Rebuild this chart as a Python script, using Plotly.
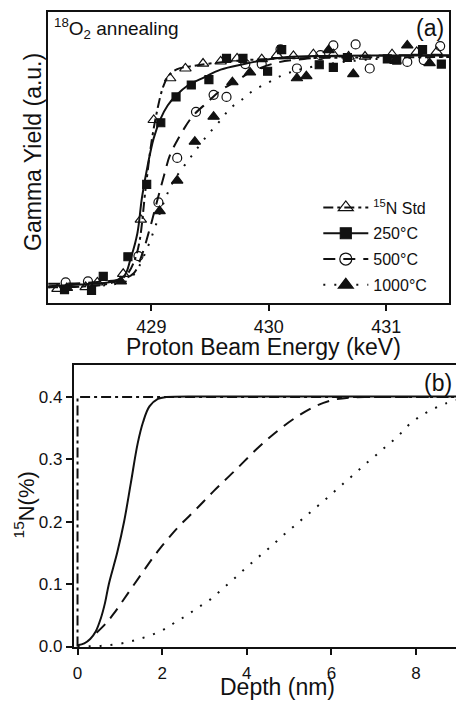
import plotly.graph_objects as go

# ---------------- Panel (a): resonance excitation curves ----------------
std_E = [428.20, 428.44, 428.54, 428.76, 428.91, 429.02, 429.16, 429.29, 429.44, 429.59,
         429.73, 429.94, 430.07, 430.21, 430.38, 430.55, 430.68, 430.82, 431.05, 431.26, 431.43]
std_Y = [-0.007, 0.001, 0.021, 0.058, 0.29, 0.718, 0.897, 0.939, 0.96, 0.969,
         0.982, 0.979, 0.996, 0.993, 1.0, 1.0, 0.99, 0.99, 1.0, 1.01, 1.01]

t250_E = [428.26, 428.49, 428.59, 428.80, 428.96, 429.08, 429.21, 429.34, 429.49, 429.64,
          429.78, 429.99, 430.11, 430.43, 430.55, 430.67, 431.01, 431.09, 431.31, 431.47]
t250_Y = [-0.01, -0.013, 0.047, 0.131, 0.442, 0.706, 0.817, 0.868, 0.891, 0.982,
          0.982, 0.927, 1.02, 0.955, 0.944, 0.986, 0.98, 0.975, 1.02, 0.958]

t500_E = [428.27, 428.46, 428.89, 429.06, 429.22, 429.38, 429.53, 429.64, 429.80, 429.94,
          430.10, 430.24, 430.44, 430.55, 430.74, 430.86, 431.18, 431.32, 431.46]
t500_Y = [0.021, 0.025, 0.134, 0.364, 0.555, 0.753, 0.826, 0.817, 0.958, 0.958,
          1.021, 0.939, 0.996, 1.038, 1.042, 0.939, 0.967, 0.975, 1.035]

t1000_E = [428.28, 428.74, 429.07, 429.22, 429.37, 429.53, 429.69, 429.84, 430.24, 430.32,
           430.51, 430.72, 431.08, 431.18, 431.37]
t1000_Y = [-0.003, 0.025, 0.327, 0.458, 0.625, 0.732, 0.88, 0.922, 0.897, 0.906,
           1.018, 0.915, 0.972, 1.038, 0.962]

# fitted curves
fit_std_E = [428.12, 428.40, 428.60, 428.72, 428.80, 428.86, 428.90, 428.95, 429.00, 429.05,
             429.10, 429.15, 429.22, 429.36, 429.53, 429.73, 430.00, 430.50, 431.00, 431.54]
fit_std_Y = [0.000, 0.003, 0.012, 0.030, 0.060, 0.12, 0.20, 0.42, 0.62, 0.76,
             0.86, 0.91, 0.936, 0.95, 0.962, 0.972, 0.98, 0.985, 0.987, 0.988]

fit_250_E = [428.12, 428.40, 428.53, 428.67, 428.77, 428.82, 428.88, 428.92, 428.97, 429.02,
             429.08, 429.14, 429.21, 429.31, 429.45, 429.59, 429.79, 429.96, 430.16, 430.44,
             431.00, 431.54]
fit_250_Y = [0.005, 0.012, 0.016, 0.025, 0.050, 0.117, 0.23, 0.386, 0.527, 0.64,
             0.725, 0.781, 0.823, 0.866, 0.901, 0.934, 0.958, 0.975, 0.988, 0.993,
             0.995, 0.995]

fit_500_E = [428.12, 428.40, 428.60, 428.75, 428.85, 428.92, 428.99, 429.05, 429.11, 429.16,
             429.28, 429.36, 429.48, 429.59, 429.73, 429.84, 430.07, 430.30, 430.60, 431.00,
             431.54]
fit_500_Y = [0.015, 0.018, 0.025, 0.035, 0.060, 0.14, 0.258, 0.372, 0.484, 0.569,
             0.682, 0.739, 0.795, 0.845, 0.887, 0.922, 0.964, 0.98, 0.99, 0.995,
             0.995]

fit_1000_E = [428.12, 428.50, 428.70, 428.80, 428.87, 428.97, 429.04, 429.11, 429.19, 429.33,
              429.48, 429.59, 429.67, 429.77, 429.87, 429.99, 430.10, 430.20, 430.30, 430.60,
              431.00, 431.54]
fit_1000_Y = [0.0, 0.005, 0.015, 0.03, 0.068, 0.174, 0.27, 0.37, 0.456, 0.555,
              0.654, 0.717, 0.767, 0.805, 0.845, 0.877, 0.906, 0.925, 0.939, 0.965,
              0.982, 0.99]

# ---------------- Panel (b): depth profiles ----------------
prof_std_x = [0.0, 0.0, 8.95]
prof_std_y = [0.0, 0.4, 0.4]

prof_250_x = [0.00, 0.16, 0.30, 0.43, 0.55, 0.65, 0.74, 0.94, 1.10, 1.26,
              1.42, 1.55, 1.70, 1.90, 2.10, 3.00, 5.00, 8.95]
prof_250_y = [0.002, 0.005, 0.012, 0.024, 0.045, 0.070, 0.100, 0.151, 0.200, 0.262,
              0.325, 0.360, 0.385, 0.397, 0.400, 0.401, 0.401, 0.401]

prof_500_x = [0.45, 0.67, 0.86, 1.22, 1.57, 1.89, 2.36, 2.80, 3.23, 3.69,
              4.21, 4.66, 5.13, 5.61, 6.08, 6.50, 7.00, 8.95]
prof_500_y = [0.022, 0.037, 0.053, 0.088, 0.122, 0.152, 0.190, 0.220, 0.250, 0.280,
              0.315, 0.342, 0.366, 0.385, 0.396, 0.3995, 0.400, 0.400]

prof_1000_x = [0.00, 0.55, 0.86, 1.18, 1.45, 1.73, 2.03, 2.29, 2.58, 2.86,
               3.15, 3.42, 3.69, 3.98, 4.27, 4.55, 4.84, 5.12, 5.41, 5.69,
               5.98, 6.26, 6.55, 6.81, 7.06, 7.31, 7.57, 7.84, 8.14, 8.41,
               8.71, 8.95]
prof_1000_y = [0.000, 0.001, 0.003, 0.007, 0.012, 0.018, 0.027, 0.038, 0.050, 0.063,
               0.076, 0.092, 0.108, 0.126, 0.143, 0.159, 0.177, 0.193, 0.210, 0.226,
               0.243, 0.260, 0.277, 0.293, 0.307, 0.322, 0.337, 0.356, 0.371, 0.381,
               0.390, 0.395]

legend_names = ["<sup>15</sup>N Std", "250°C", "500°C", "1000°C"]
y_ticks_b = [0.0, 0.1, 0.2, 0.3, 0.4]
x_ticks_a = [429, 430, 431]
x_ticks_b = [0, 2, 4, 6, 8]

FONT = "Liberation Sans, Arial, sans-serif"
BLACK = "#111111"
DASHDOT = "10px,4px,3px,4px"
DASH = "12px,8px"
DOT = "2px,9px"

styles = [
    dict(dash=DASHDOT, symbol="triangle-up-open", size=10),
    dict(dash="solid", symbol="square", size=8),
    dict(dash=DASH, symbol="circle-open", size=9),
    dict(dash=DOT, symbol="triangle-up", size=10),
]

fig = go.Figure()

# panel (a) fits
for (ex, ey), st in zip([(fit_std_E, fit_std_Y), (fit_250_E, fit_250_Y),
                         (fit_500_E, fit_500_Y), (fit_1000_E, fit_1000_Y)], styles):
    fig.add_trace(go.Scatter(x=ex, y=ey, mode="lines", line_shape="spline",
                             line=dict(color=BLACK, width=2, dash=st["dash"]),
                             showlegend=False, xaxis="x", yaxis="y"))

# panel (a) data markers
for (ex, ey), st in zip([(std_E, std_Y), (t250_E, t250_Y),
                         (t500_E, t500_Y), (t1000_E, t1000_Y)], styles):
    fig.add_trace(go.Scatter(x=ex, y=ey, mode="markers",
                             marker=dict(symbol=st["symbol"], size=st["size"], color=BLACK,
                                         line=dict(color=BLACK, width=1.2)),
                             showlegend=False, xaxis="x", yaxis="y"))

# legend entries (no data, legend only)
for i, (name, st) in enumerate(zip(legend_names, styles)):
    fig.add_trace(go.Scatter(x=[None], y=[None], mode="lines+markers", name=name,
                             legendgroup=f"g{i}",
                             line=dict(color=BLACK, width=2, dash=st["dash"]),
                             marker=dict(symbol=st["symbol"], size=st["size"] + 3, color=BLACK,
                                         line=dict(color=BLACK, width=1.2)),
                             xaxis="x", yaxis="y"))

# panel (b) profiles
for (px_, py_), st in zip([(prof_std_x, prof_std_y), (prof_250_x, prof_250_y),
                           (prof_500_x, prof_500_y), (prof_1000_x, prof_1000_y)], styles):
    fig.add_trace(go.Scatter(x=px_, y=py_, mode="lines",
                             line_shape="linear" if px_ is prof_std_x else "spline",
                             line=dict(color=BLACK, width=2, dash=st["dash"]),
                             showlegend=False, xaxis="x2", yaxis="y2"))

W, H = 456, 705
def px(v):
    return v / W
def py(v):
    return 1 - v / H

axis_common = dict(showgrid=False, zeroline=False, showline=True, linecolor=BLACK,
                   linewidth=1.5, ticks="outside", tickcolor=BLACK, tickwidth=1.5,
                   ticklen=6)

fig.update_layout(
    width=W, height=H,
    margin=dict(l=0, r=0, t=0, b=0),
    paper_bgcolor="white", plot_bgcolor="white",
    font=dict(family=FONT, color=BLACK),
    xaxis=dict(domain=[px(47.3), px(449.3)], range=[428.121, 431.538],
               tickvals=x_ticks_a, mirror=True, anchor="y", ticklabelstandoff=1,
               tickfont=dict(size=18), **axis_common),
    yaxis=dict(domain=[py(306.7), py(12)], range=[-0.0665, 1.182],
               mirror=True, anchor="x", showgrid=False, zeroline=False, showline=True,
               linecolor=BLACK, linewidth=1.5, ticks="", showticklabels=False),
    xaxis2=dict(domain=[px(72.7), 1.0], range=[-0.094, 8.946],
                tickvals=x_ticks_b, mirror=True, anchor="y2", ticklabelstandoff=4,
                tickfont=dict(size=17), **axis_common),
    yaxis2=dict(domain=[py(655.5), py(370)], range=[-0.001, 0.451],
                tickvals=y_ticks_b, tickformat=".1f", anchor="x2",
                tickfont=dict(size=17), **axis_common),
    legend=dict(x=px(318), y=py(193), xanchor="left", yanchor="top",
                bgcolor="rgba(0,0,0,0)", font=dict(size=16, family=FONT),
                itemwidth=45, tracegroupgap=2),
    annotations=[
        dict(text="<sup>18</sup>O<sub>2</sub> annealing", x=px(51), y=py(29),
             xref="paper", yref="paper", xanchor="left", yanchor="middle",
             showarrow=False, font=dict(size=19)),
        dict(text="(a)", x=px(446), y=py(28), xref="paper", yref="paper",
             xanchor="right", yanchor="middle", showarrow=False, font=dict(size=23)),
        dict(text="(b)", x=px(454), y=py(388), xref="paper", yref="paper",
             xanchor="right", yanchor="middle", showarrow=False, font=dict(size=23)),
        dict(text="Gamma Yield (a.u.)", x=px(32), y=py(154), xref="paper", yref="paper",
             xanchor="center", yanchor="middle", textangle=-90, showarrow=False,
             font=dict(size=23)),
        dict(text="Proton Beam Energy (keV)", x=px(263), y=py(351), xref="paper",
             yref="paper", xanchor="center", yanchor="middle", showarrow=False,
             font=dict(size=23)),
        dict(text="<sup>15</sup>N(%)", x=px(24), y=py(511), xref="paper", yref="paper",
             xanchor="center", yanchor="middle", textangle=-90, showarrow=False,
             font=dict(size=22)),
        dict(text="Depth (nm)", x=px(277), y=py(696), xref="paper", yref="paper",
             xanchor="center", yanchor="middle", showarrow=False, font=dict(size=23)),
    ],
)

fig.write_html("out.html")
